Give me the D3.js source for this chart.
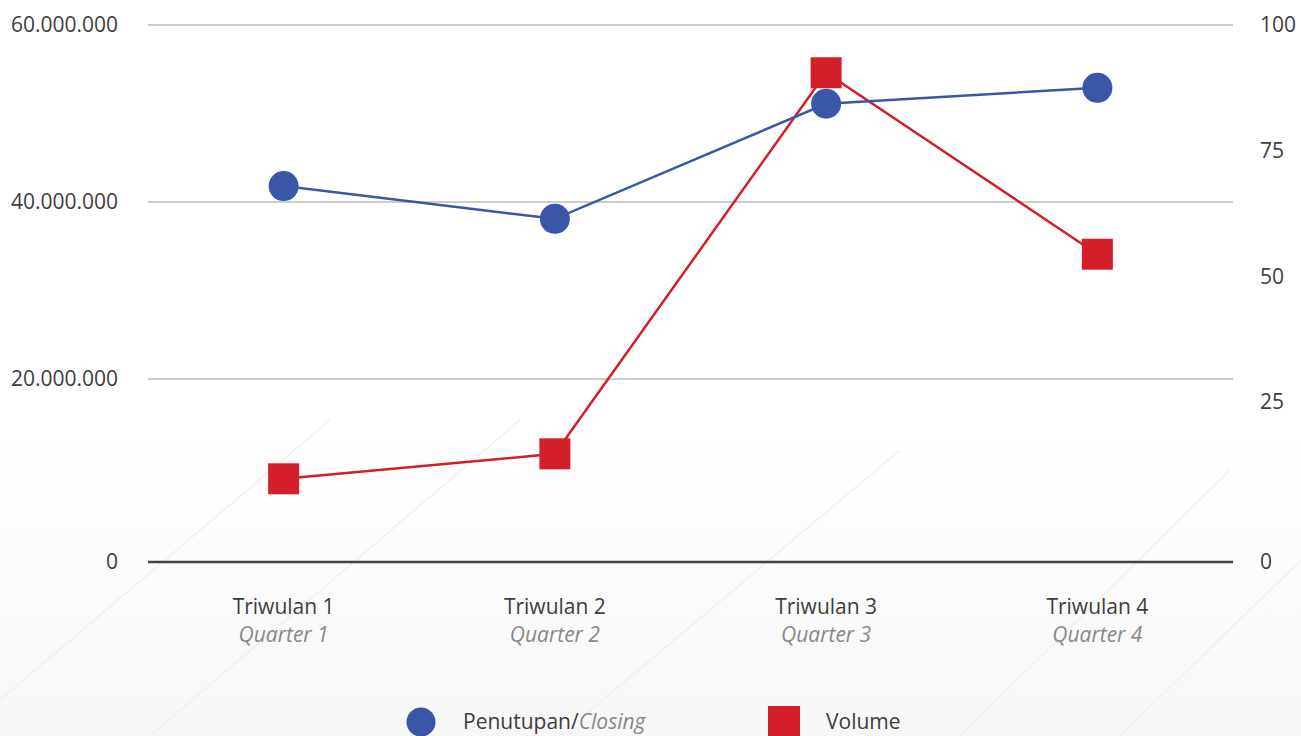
<!DOCTYPE html>
<html>
<head>
<meta charset="utf-8">
<script src="https://cdn.jsdelivr.net/npm/d3@7"></script>
<style>
  body { margin: 0; background: #fff; }
  svg { display: block; font-family: "Open Sans", "Noto Sans", sans-serif; }
</style>
</head>
<body>
<svg id="chart"></svg>
<script>
let quarters = ['Triwulan 1', 'Triwulan 2', 'Triwulan 3', 'Triwulan 4']
let quartersEn = ['Quarter 1', 'Quarter 2', 'Quarter 3', 'Quarter 4']
let closing = [41800000, 38100000, 51100000, 52900000]
let volume = [13.0, 16.9, 90.5, 54.4]
let leftTicks = [0, 20000000, 40000000, 60000000]
let rightTicks = [0, 25, 50, 75, 100]

let width = 1301
let height = 736
let left = 148
let right = 1233

let blue = '#3a56a6'
let red = '#d21f29'

let svg = d3.select('#chart').attr('width', width).attr('height', height)

// faint backdrop at the bottom
let defs = svg.append('defs')
let grad = defs.append('linearGradient').attr('id', 'bg').attr('x1', 0).attr('x2', 0).attr('y1', 0).attr('y2', 1)
grad.append('stop').attr('offset', '0%').attr('stop-color', '#ffffff')
grad.append('stop').attr('offset', '100%').attr('stop-color', '#f7f7f7')
svg.append('rect').attr('x', 0).attr('y', 420).attr('width', width).attr('height', height - 420).attr('fill', 'url(#bg)')
let diag = svg.append('g').attr('stroke', '#f0f0f0').attr('stroke-width', 1.5)
;[[0, 700, 330, 420], [150, 736, 520, 420], [560, 736, 900, 450], [960, 736, 1230, 470], [1120, 736, 1301, 560]].forEach(d => {
    diag.append('line').attr('x1', d[0]).attr('y1', d[1]).attr('x2', d[2]).attr('y2', d[3])
})

let xScale = d3.scalePoint().domain(quarters).range([left, right]).padding(0.5)

// axes are not evenly spaced in the original, so polylinear scales
let yLeft = d3.scaleLinear().domain([0, 20000000, 60000000]).range([562, 379, 25])
let yRight = d3.scaleLinear().domain([0, 25, 100]).range([562, 402, 25])

let fmt = v => d3.format(',')(v).replace(/,/g, '.')

// grid lines
svg.append('g').selectAll('line')
    .data(leftTicks.filter(d => d > 0))
    .enter().append('line')
    .attr('x1', left).attr('x2', right)
    .attr('y1', d => yLeft(d)).attr('y2', d => yLeft(d))
    .attr('stroke', '#999').attr('stroke-width', 1)

svg.append('line')
    .attr('x1', left).attr('x2', right)
    .attr('y1', yLeft(0)).attr('y2', yLeft(0))
    .attr('stroke', '#444').attr('stroke-width', 2.5)

// left axis labels
svg.append('g').selectAll('text')
    .data(leftTicks)
    .enter().append('text')
    .attr('x', 118).attr('y', d => yLeft(d)).attr('dy', '0.35em')
    .attr('text-anchor', 'end')
    .attr('font-size', 21).attr('fill', '#3d3d3d')
    .text(d => fmt(d))

// right axis labels
svg.append('g').selectAll('text')
    .data(rightTicks)
    .enter().append('text')
    .attr('x', 1260).attr('y', d => yRight(d)).attr('dy', '0.35em')
    .attr('font-size', 21).attr('fill', '#3d3d3d')
    .text(d => d)

// x labels
let xl = svg.append('g').selectAll('g')
    .data(quarters)
    .enter().append('g')
    .attr('transform', d => 'translate(' + xScale(d) + ',0)')
xl.append('text').attr('y', 614).attr('text-anchor', 'middle')
    .attr('font-size', 21).attr('fill', '#3d3d3d').text(d => d)
xl.append('text').attr('y', 642).attr('text-anchor', 'middle')
    .attr('font-size', 21).attr('font-style', 'italic').attr('fill', '#888')
    .text((d, i) => quartersEn[i])

// volume line
let volLine = d3.line().x((d, i) => xScale(quarters[i])).y(d => yRight(d))
svg.append('path').datum(volume)
    .attr('d', volLine).attr('fill', 'none')
    .attr('stroke', red).attr('stroke-width', 2.5)

// closing line
let closeLine = d3.line().x((d, i) => xScale(quarters[i])).y(d => yLeft(d))
svg.append('path').datum(closing)
    .attr('d', closeLine).attr('fill', 'none')
    .attr('stroke', blue).attr('stroke-width', 2.5)

svg.append('g').selectAll('circle')
    .data(closing)
    .enter().append('circle')
    .attr('cx', (d, i) => xScale(quarters[i]))
    .attr('cy', d => yLeft(d))
    .attr('r', 15).attr('fill', blue)

svg.append('g').selectAll('rect')
    .data(volume)
    .enter().append('rect')
    .attr('x', (d, i) => xScale(quarters[i]) - 15.5)
    .attr('y', d => yRight(d) - 15.5)
    .attr('width', 31).attr('height', 31).attr('fill', red)

// legend
let lg = svg.append('g')
lg.append('circle').attr('cx', 421).attr('cy', 722).attr('r', 14.5).attr('fill', blue)
let lt = lg.append('text').attr('x', 463).attr('y', 729).attr('font-size', 21).attr('fill', '#3d3d3d')
lt.append('tspan').text('Penutupan/')
lt.append('tspan').attr('font-style', 'italic').attr('fill', '#888').text('Closing')
lg.append('rect').attr('x', 768).attr('y', 706).attr('width', 32).attr('height', 32).attr('fill', red)
lg.append('text').attr('x', 826).attr('y', 729).attr('font-size', 21).attr('fill', '#3d3d3d').text('Volume')
</script>
</body>
</html>
